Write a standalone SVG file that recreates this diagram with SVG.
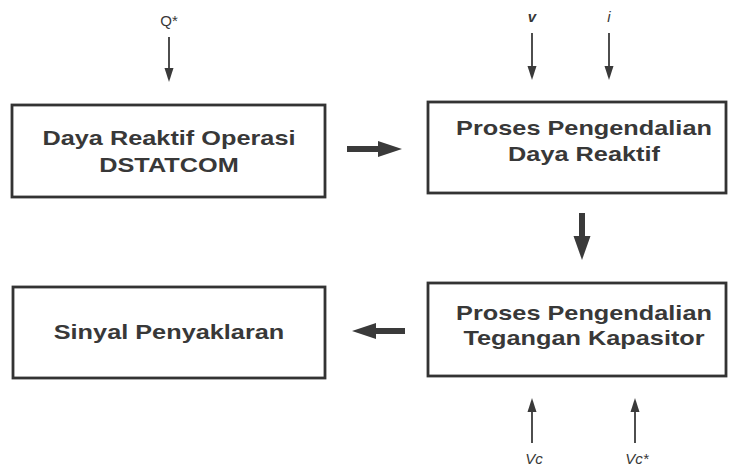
<svg xmlns="http://www.w3.org/2000/svg" width="729" height="467" viewBox="0 0 729 467">
<style>
.box{fill:#fff;stroke:#333;stroke-width:2.8}
.t{font-family:"Liberation Sans",Arial,sans-serif;font-weight:bold;font-size:20px;fill:#383838;text-anchor:middle}
.lbl{font-family:"Liberation Sans",Arial,sans-serif;font-size:15px;fill:#383838;text-anchor:middle}
.thin{stroke:#3a3a3a;stroke-width:1.8;fill:none}
.thick{stroke:#3a3a3a;stroke-width:6;fill:none}
.head{fill:#3a3a3a}
</style>
<rect width="729" height="467" fill="#fff"/>
<g id="node-daya-reaktif-operasi">
<rect class="box" x="12" y="105" width="313" height="92"/>
<text class="t" transform="translate(169,145) scale(1.265,1)">Daya Reaktif Operasi</text>
<text class="t" transform="translate(169,172) scale(1.265,1)">DSTATCOM</text>
</g>
<g id="node-proses-daya-reaktif">
<rect class="box" x="428" y="102" width="298" height="91"/>
<text class="t" transform="translate(584,135) scale(1.265,1)">Proses Pengendalian</text>
<text class="t" transform="translate(584,161) scale(1.265,1)">Daya Reaktif</text>
</g>
<g id="node-sinyal-penyaklaran">
<rect class="box" x="13" y="287" width="312" height="91"/>
<text class="t" transform="translate(169,339) scale(1.265,1)">Sinyal Penyaklaran</text>
</g>
<g id="node-proses-tegangan-kapasitor">
<rect class="box" x="428" y="283" width="298" height="93"/>
<text class="t" transform="translate(584,320) scale(1.265,1)">Proses Pengendalian</text>
<text class="t" transform="translate(584,345) scale(1.265,1)">Tegangan Kapasitor</text>
</g>
<g id="labels">
<text class="lbl" x="169" y="26">Q*</text>
<text class="lbl" x="532" y="22" font-style="italic" font-weight="bold">v</text>
<text class="lbl" x="609" y="22" font-style="italic">i</text>
<text class="lbl" x="534" y="464" font-style="italic">Vc</text>
<text class="lbl" x="637" y="464" font-style="italic">Vc*</text>
</g>
<g id="connectors">
<line class="thin" x1="169" y1="37" x2="169" y2="70"/>
<path class="head" d="M164.5,68 L173.5,68 L169,82 z"/>
<line class="thin" x1="532" y1="33" x2="532" y2="68"/>
<path class="head" d="M527.5,66 L536.5,66 L532,80 z"/>
<line class="thin" x1="609" y1="33" x2="609" y2="68"/>
<path class="head" d="M604.5,66 L613.5,66 L609,80 z"/>
<line class="thin" x1="532" y1="443" x2="532" y2="410"/>
<path class="head" d="M527.5,412 L536.5,412 L532,398 z"/>
<line class="thin" x1="635" y1="443" x2="635" y2="410"/>
<path class="head" d="M630.5,412 L639.5,412 L635,398 z"/>
<line class="thick" x1="347" y1="149" x2="382" y2="149"/>
<path class="head" d="M378,141 L402,149 L378,157 z"/>
<line class="thick" x1="582" y1="213" x2="582" y2="240"/>
<path class="head" d="M573.5,236 L590.5,236 L582,260 z"/>
<line class="thick" x1="405" y1="331" x2="372" y2="331"/>
<path class="head" d="M376,323 L352,331 L376,339 z"/>
</g>
</svg>
